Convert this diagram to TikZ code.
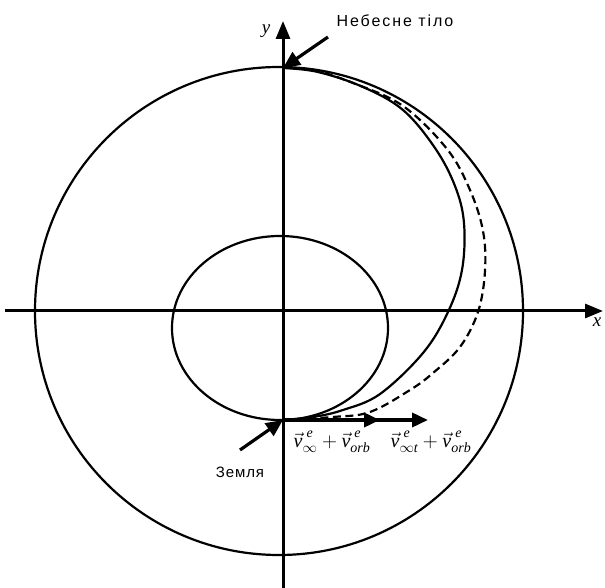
\documentclass[tikz,border=0pt]{standalone}
\usepackage{amsmath}
\usepackage{fontspec}
\setmainfont{Liberation Sans}
\newfontfamily\tms{Liberation Serif}
\usetikzlibrary{arrows.meta}
\newcommand\ti[1]{\text{\tms\itshape #1}}
\begin{document}
\begin{tikzpicture}[x=1pt,y=1pt,
  axisline/.style={line width=3pt,-{Triangle[length=18pt,width=14pt]}},
  orbitline/.style={line width=2.2pt},
  trajline/.style={line width=2.2pt},
  dtrajline/.style={line width=2.2pt,dash pattern=on 8pt off 4.5pt},
  vecarrow/.style={line width=3.6pt,-{Triangle[length=16pt,width=14pt]}},
  pointer/.style={line width=3.2pt,-{Triangle[length=17pt,width=15pt]}},
  cyrlbl/.style={inner sep=0pt,font=\fontsize{16}{18}\selectfont\addfontfeature{LetterSpace=12}},
  veclbl/.style={inner sep=0pt,font=\fontsize{20}{22}\selectfont},
  axlbl/.style={inner sep=0pt,font=\fontsize{19}{21}\selectfont\tms\itshape}
]
\useasboundingbox (-283,-277) rectangle (322,311);

\coordinate (earth) at (0,-109);
\coordinate (body) at (0,243);
\coordinate (xs) at (-278,0);
\coordinate (xe) at (320,0);
\coordinate (ys) at (0,-277);
\coordinate (ye) at (0,290);

% orbits
\draw[orbitline] (-4,0) circle (244);
\draw[orbitline] (-3,-17) ellipse (108 and 92);

% trajectories
\draw[trajline] plot[smooth,tension=0.6] coordinates {(0,-109) (30,-106) (60,-99) (97,-83) (140,-42) (165,-1) (179,41) (181,88) (172,125) (152,163) (120,201) (80,224) (35,239) (0,243)};
\draw[dtrajline] plot[smooth,tension=0.6] coordinates {(0,-109) (50,-106) (87,-101) (127,-79) (150,-62) (177,-36) (195,-1) (202,40) (200,80) (187,121) (164,162) (120,205) (70,228) (30,241) (0,243)};

% axes
\draw[axisline] (xs) -- (xe);
\draw[axisline] (ys) -- (ye);
\node[axlbl] (xl) at (314,-11) {x};
\node[axlbl] (yl) at (-17,280) {y};

% velocity vectors
\coordinate (v2tip) at (145,-109);
\coordinate (v1tip) at (97,-109);
\draw[vecarrow] (earth) -- (v2tip);
\draw[vecarrow] (earth) -- (v1tip);
\node[veclbl] (v1) at (49,-131) {$\vec{\ti{v}}^{\;\ti{e}}_{\infty}+\vec{\ti{v}}^{\;\ti{e}}_{\ti{orb}}$};
\node[veclbl] (v2) at (148,-131) {$\vec{\ti{v}}^{\;\ti{e}}_{\infty\ti{t}}+\vec{\ti{v}}^{\;\ti{e}}_{\ti{orb}}$};

% pointers
\node[cyrlbl] (bodylbl) at (112,290) {Небесне тіло};
\coordinate (bodytail) at (45,274);
\draw[pointer] (bodytail) -- (body);
\node[inner sep=0pt,font=\fontsize{15}{17}\selectfont\addfontfeature{LetterSpace=6}] (earthlbl) at (-43,-161) {Земля};
\coordinate (earthtail) at (-43,-139);
\draw[pointer] (earthtail) -- (earth);
\end{tikzpicture}
\end{document}
